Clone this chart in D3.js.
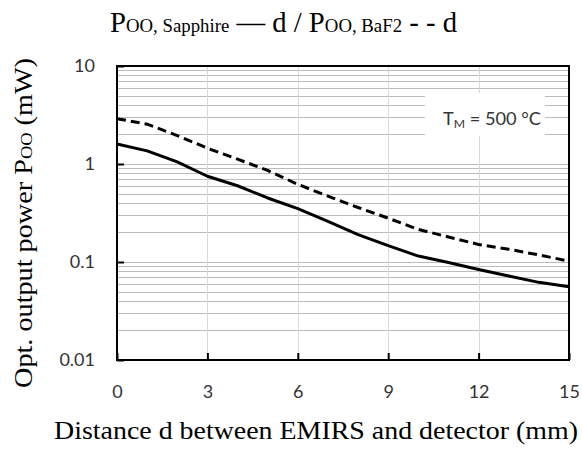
<!DOCTYPE html>
<html>
<head>
<meta charset="utf-8">
<script src="https://cdn.jsdelivr.net/npm/d3@7"></script>
<style>
  html, body { margin: 0; padding: 0; background: #fff; }
  svg { display: block; }
</style>
</head>
<body>
<svg id="chart" width="582" height="450"></svg>
<script>
// ---- data ----
const distance = [0, 1, 2, 3, 4, 5, 6, 7, 8, 9, 10, 11, 12, 13, 14, 15];
const powerSapphire = [1.60, 1.36, 1.05, 0.75, 0.60, 0.45, 0.35, 0.26, 0.19, 0.147, 0.115, 0.099, 0.084, 0.072, 0.062, 0.056];
const powerBaF2 = [2.90, 2.55, 1.95, 1.45, 1.12, 0.86, 0.62, 0.47, 0.36, 0.28, 0.215, 0.18, 0.151, 0.135, 0.118, 0.102];
const xTicks = [0, 3, 6, 9, 12, 15];
const yTicks = [0.01, 0.1, 1, 10];
const yTickLabels = ["0.01", "0.1", "1", "10"];

// ---- layout ----
const svg = d3.select("#chart");
const L = 117, R = 569, T = 66, B = 360;
const x = d3.scaleLinear().domain([0, 15]).range([L, R]);
const y = d3.scaleLog().domain([0.01, 10]).range([B, T]);

const sansFont = "Lato, 'Open Sans', sans-serif";
const serifFont = "'Liberation Serif', 'DejaVu Serif', serif";

// minor + major horizontal gridlines
const hGrid = [];
for (let e = -2; e < 1; e++) {
  for (let m = 1; m <= 9; m++) {
    const v = m * Math.pow(10, e);
    if (v > 0.01 && v < 10) hGrid.push(v);
  }
}
svg.append("g").selectAll("line").data(hGrid).join("line")
  .attr("x1", L).attr("x2", R)
  .attr("y1", d => Math.round(y(d)) + 0.5).attr("y2", d => Math.round(y(d)) + 0.5)
  .attr("stroke", "#bcbcbc").attr("stroke-width", 1);

// vertical gridlines
svg.append("g").selectAll("line").data(xTicks.slice(1, -1)).join("line")
  .attr("x1", d => Math.round(x(d)) + 0.5).attr("x2", d => Math.round(x(d)) + 0.5)
  .attr("y1", T).attr("y2", B)
  .attr("stroke", "#d9d9d9").attr("stroke-width", 1);

// annotation box (white background)
svg.append("rect").attr("x", 425).attr("y", 93).attr("width", 120).attr("height", 43).attr("fill", "#fff");
const ann = svg.append("text").attr("x", 443).attr("y", 125)
  .attr("font-family", sansFont).attr("font-size", 18).attr("fill", "#333")
  .attr("textLength", 98).attr("lengthAdjust", "spacingAndGlyphs");
ann.append("tspan").text("T");
ann.append("tspan").attr("font-size", 12).attr("dy", 3).text("M");
ann.append("tspan").attr("dy", -3).text(" = 500 °C");

// lines
const line = d3.line().x((d, i) => x(distance[i])).y(d => y(d));
svg.append("path").datum(powerBaF2).attr("d", line)
  .attr("fill", "none").attr("stroke", "#000").attr("stroke-width", 3)
  .attr("stroke-dasharray", "9,5");
svg.append("path").datum(powerSapphire).attr("d", line)
  .attr("fill", "none").attr("stroke", "#000").attr("stroke-width", 3)
  .attr("stroke-linejoin", "round");

// frame
svg.append("rect").attr("x", L).attr("y", T).attr("width", R - L).attr("height", B - T)
  .attr("fill", "none").attr("stroke", "#000").attr("stroke-width", 2);

// axes via d3
const xAxis = d3.axisBottom(x).tickValues(xTicks).tickSize(-7).tickPadding(25).tickFormat(d3.format("d"));
const gx = svg.append("g").attr("transform", `translate(0,${B})`).call(xAxis);
gx.select(".domain").remove();
gx.selectAll(".tick line").attr("stroke", "#000").attr("stroke-width", 2);
gx.selectAll(".tick text").attr("font-family", sansFont).attr("font-size", 18).attr("fill", "#333");

const yAxis = d3.axisLeft(y).tickValues(yTicks).tickSize(-7).tickPadding(22)
  .tickFormat((d, i) => yTickLabels[i]);
const gy = svg.append("g").attr("transform", `translate(${L},0)`).call(yAxis);
gy.select(".domain").remove();
gy.selectAll(".tick line").attr("stroke", "#000").attr("stroke-width", 2);
gy.selectAll(".tick text").attr("font-family", sansFont).attr("font-size", 18).attr("fill", "#333");

// title
const title = svg.append("text").attr("x", 110).attr("y", 32)
  .attr("font-family", serifFont).attr("font-size", 29).attr("fill", "#000")
  .attr("textLength", 347).attr("lengthAdjust", "spacingAndGlyphs");
title.append("tspan").text("P");
title.append("tspan").attr("font-size", 19).text("OO, Sapphire");
title.append("tspan").text(" — d / P");
title.append("tspan").attr("font-size", 19).text("OO, BaF2");
title.append("tspan").text(" - - d");

// x title
svg.append("text").attr("x", 54).attr("y", 439)
  .attr("font-family", serifFont).attr("font-size", 26).attr("fill", "#000")
  .attr("textLength", 524).attr("lengthAdjust", "spacingAndGlyphs")
  .text("Distance d between EMIRS and detector (mm)");

// y title
const yt = svg.append("text").attr("transform", "translate(32,388) rotate(-90)")
  .attr("font-family", serifFont).attr("font-size", 26).attr("fill", "#000")
  .attr("textLength", 330).attr("lengthAdjust", "spacingAndGlyphs");
yt.append("tspan").text("Opt. output power P");
yt.append("tspan").attr("font-size", 17).text("OO");
yt.append("tspan").text(" (mW)");
</script>
</body>
</html>
